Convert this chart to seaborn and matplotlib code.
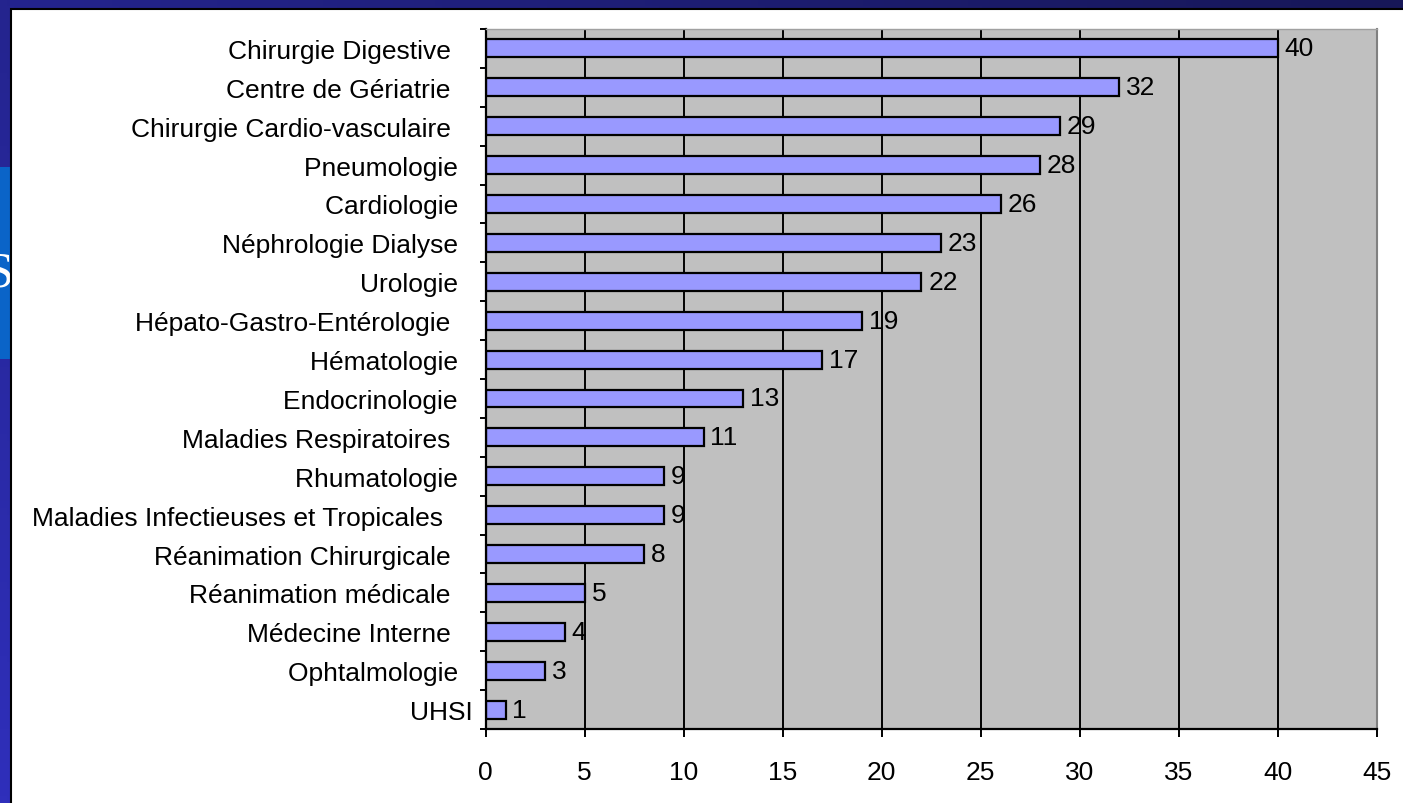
import numpy as np
import pandas as pd
import matplotlib
matplotlib.use("Agg")
import matplotlib.pyplot as plt
from matplotlib.patches import Rectangle
import seaborn as sns

# Number of cases per hospital department
services = [
    "Chirurgie Digestive   ",
    "Centre de Gériatrie   ",
    "Chirurgie Cardio-vasculaire   ",
    "Pneumologie  ",
    "Cardiologie  ",
    "Néphrologie Dialyse  ",
    "Urologie  ",
    "Hépato-Gastro-Entérologie   ",
    "Hématologie  ",
    "Endocrinologie  ",
    "Maladies Respiratoires   ",
    "Rhumatologie  ",
    "Maladies Infectieuses et Tropicales    ",
    "Réanimation Chirurgicale   ",
    "Réanimation médicale   ",
    "Médecine Interne   ",
    "Ophtalmologie  ",
    "UHSI",
]
counts = [40, 32, 29, 28, 26, 23, 22, 19, 17, 13, 11, 9, 9, 8, 5, 4, 3, 1]
x_ticks = [0, 5, 10, 15, 20, 25, 30, 35, 40, 45]

FONT = "Liberation Sans"
FS = 19
plt.rcParams["font.family"] = [FONT, "DejaVu Sans"]

W, H = 1403, 804
fig = plt.figure(figsize=(W / 100, H / 100), dpi=100)

# ---- slide background: blue frame with a white panel on top ----
bg = fig.add_axes([0, 0, 1, 1], zorder=-10)
bg.set_xlim(0, W)
bg.set_ylim(H, 0)
bg.axis("off")
c_tl = np.array([0x24, 0x24, 0x8e]) / 255
c_tr = np.array([0x17, 0x17, 0x58]) / 255
c_bl = np.array([0x2f, 0x2f, 0xbb]) / 255
u = np.linspace(0, 1, 200)[None, :, None]
v = np.linspace(0, 1, 120)[:, None, None]
grad = c_tl + (c_tr - c_tl) * u + (c_bl - c_tl) * v
bg.imshow(np.clip(grad, 0, 1), extent=(0, W, H, 0), aspect="auto", zorder=0)
bg.add_patch(Rectangle((-5, 168), 16, 192, facecolor="#0a64c8", edgecolor="none", zorder=1))
bg.text(0, 274, "S", color="white", fontsize=36, family="Liberation Serif",
        ha="center", va="center", zorder=2)
bg.add_patch(Rectangle((11, 10), W + 20, H + 20, facecolor="white",
                       edgecolor="black", linewidth=1.5, zorder=3))

# ---- bar chart ----
df = pd.DataFrame({"service": services, "count": counts})
ax = fig.add_axes([0.3462, 0.0920, 0.6351, 0.8707])
sns.barplot(data=df, x="count", y="service", orient="h", color="#9999ff",
            saturation=1, edgecolor="black", linewidth=1.6, width=0.46, ax=ax)

ax.set_facecolor("#c0c0c0")
ax.set_xlim(0, 45)
ax.set_xticks(x_ticks)
ax.set_xlabel("")
ax.set_ylabel("")
ax.set_axisbelow(True)
ax.xaxis.grid(True, color="black", linewidth=1.4)
ax.yaxis.grid(False)
ticks = ax.xaxis.get_major_ticks()
ticks[0].gridline.set_visible(False)
ticks[-1].gridline.set_visible(False)

n = len(services)
ax.set_yticks(np.arange(-0.5, n), minor=True)
ax.tick_params(axis="y", which="major", length=0, pad=9.4, labelsize=FS)
ax.tick_params(axis="y", which="minor", length=4.3, width=1.4, direction="out", color="black")
ax.tick_params(axis="x", which="major", length=6, width=1.4, direction="out",
               color="black", pad=16, labelsize=FS)
for lab in ax.get_yticklabels() + ax.get_xticklabels():
    lab.set_fontfamily(FONT)

for side in ("left", "bottom"):
    ax.spines[side].set_color("black")
    ax.spines[side].set_linewidth(1.6)
ax.spines["top"].set_color("#a0a0a0")
ax.spines["top"].set_linewidth(1.0)
ax.spines["right"].set_color("#808080")
ax.spines["right"].set_linewidth(1.5)

ax.bar_label(ax.containers[0], labels=[str(c) for c in counts], padding=5,
             fontsize=FS, family=FONT)

fig.savefig("out.png", dpi=100)
